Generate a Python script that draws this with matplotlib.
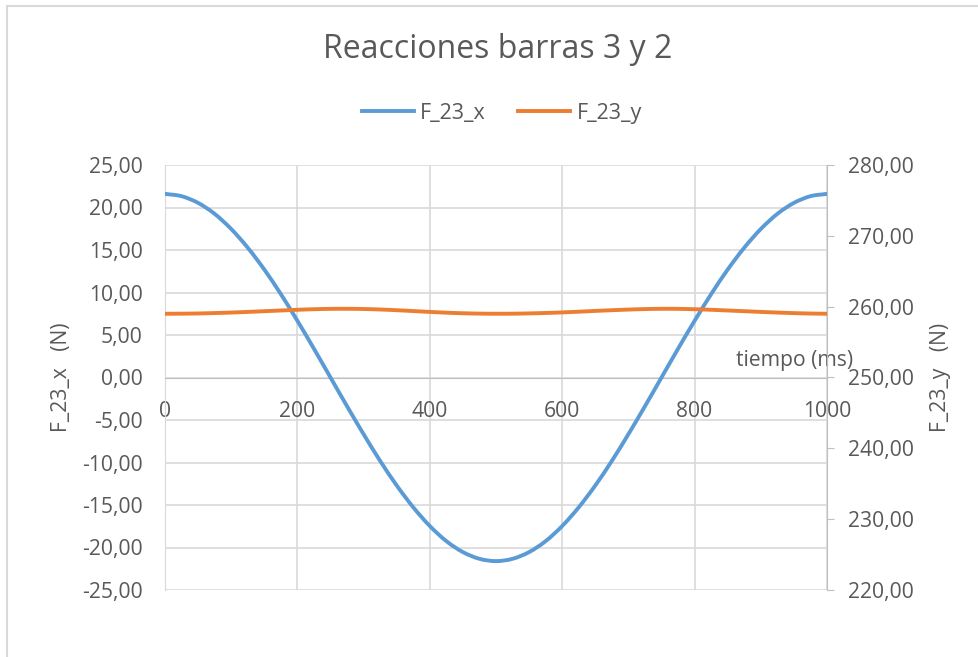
import matplotlib
matplotlib.use("Agg")
import numpy as np
import matplotlib.pyplot as plt
from matplotlib.patches import Rectangle, PathPatch
from matplotlib.path import Path
from matplotlib.lines import Line2D

plt.rcParams['font.family'] = ['Open Sans', 'DejaVu Sans']

# datos
tiempo = [0, 25, 50, 75, 100, 125, 150, 175, 200, 225, 250, 275, 300, 325, 350,
          375, 400, 425, 450, 475, 500, 525, 550, 575, 600, 625, 650, 675, 700,
          725, 750, 775, 800, 825, 850, 875, 900, 925, 950, 975, 1000]

f23_x = [21.60, 21.33, 20.54, 19.25, 17.47, 15.27, 12.70, 9.81, 6.67, 3.38,
         0.00, -3.38, -6.67, -9.81, -12.70, -15.27, -17.47, -19.25, -20.54, -21.33,
         -21.60, -21.33, -20.54, -19.25, -17.47, -15.27, -12.70, -9.81, -6.67, -3.38,
         0.00, 3.38, 6.67, 9.81, 12.70, 15.27, 17.47, 19.25, 20.54, 21.33, 21.60]

f23_y = [259.00, 259.01, 259.04, 259.10, 259.17, 259.26, 259.36, 259.46, 259.56, 259.64,
         259.69, 259.70, 259.67, 259.60, 259.50, 259.38, 259.26, 259.15, 259.07, 259.02,
         259.00, 259.01, 259.05, 259.11, 259.19, 259.29, 259.40, 259.50, 259.59, 259.66,
         259.70, 259.69, 259.64, 259.56, 259.46, 259.36, 259.26, 259.17, 259.09, 259.03,
         259.00]

ticks_x = [0, 200, 400, 600, 800, 1000]
ticks_izq = [-25, -20, -15, -10, -5, 0, 5, 10, 15, 20, 25]
ticks_der = [220, 230, 240, 250, 260, 270, 280]

gris_txt = '#595959'
gris_grid = '#d9d9d9'
gris_eje = '#bfbfbf'
azul = '#5b9bd5'
naranja = '#ed7d31'
fs = 15.2


def linea_suave(ax, x, y, color):
    # línea suavizada tipo Excel (Catmull-Rom pasado a Bezier)
    x = np.asarray(x, float)
    y = np.asarray(y, float)
    verts = [(x[0], y[0])]
    codes = [Path.MOVETO]
    n = len(x)
    for i in range(n - 1):
        x0, y0 = (x[i - 1], y[i - 1]) if i > 0 else (x[i], y[i])
        x3, y3 = (x[i + 2], y[i + 2]) if i + 2 < n else (x[i + 1], y[i + 1])
        c1 = (x[i] + (x[i + 1] - x0) / 6, y[i] + (y[i + 1] - y0) / 6)
        c2 = (x[i + 1] - (x3 - x[i]) / 6, y[i + 1] - (y3 - y[i]) / 6)
        verts += [c1, c2, (x[i + 1], y[i + 1])]
        codes += [Path.CURVE4] * 3
    ax.add_patch(PathPatch(Path(verts, codes), fill=False, edgecolor=color, lw=2.8,
                           capstyle='round', joinstyle='round', zorder=3))


fig = plt.figure(figsize=(9.79, 6.57), dpi=100)
ax = fig.add_axes([165/979, 67/657, 662/979, 425/657])
ax2 = ax.twinx()

# borde del gráfico
fig.patches.append(Rectangle((7/979, -0.05), 1.1, (657-6)/657 + 0.05, transform=fig.transFigure,
                             fill=False, edgecolor=gris_grid, lw=1.5))

linea_suave(ax, tiempo, f23_x, azul)
linea_suave(ax2, tiempo, f23_y, naranja)

ax.set_xlim(0, 1000)
ax.set_ylim(-25, 25)
ax2.set_ylim(220, 280)

ax.set_yticks(ticks_izq)
ax.set_yticklabels([f'{v:.2f}'.replace('.', ',') for v in ticks_izq])
ax2.set_yticks(ticks_der)
ax2.set_yticklabels([f'{v:.2f}'.replace('.', ',') for v in ticks_der])
ax.set_xticks(ticks_x)
ax.set_xticklabels([str(v) for v in ticks_x])

ax.grid(True, color=gris_grid, lw=1.2)
ax.set_axisbelow(True)

for a in (ax, ax2):
    for s in a.spines.values():
        s.set_visible(False)

ax.spines['left'].set_visible(True)
ax.spines['left'].set_color(gris_grid)
ax.spines['bottom'].set_visible(True)
ax.spines['bottom'].set_position(('data', 0))
ax.spines['bottom'].set_color(gris_eje)
ax2.spines['right'].set_visible(True)
ax2.spines['right'].set_color(gris_eje)

ax.tick_params(axis='y', length=0, labelsize=fs, labelcolor=gris_txt, pad=16)
ax.tick_params(axis='x', length=0, labelsize=fs, labelcolor=gris_txt, pad=17)
ax2.tick_params(axis='y', length=5, color=gris_eje, labelsize=fs, labelcolor=gris_txt, pad=10)

ax.set_ylabel('F_23_x   (N)', fontsize=fs, color=gris_txt, labelpad=7)
ax2.set_ylabel('F_23_y   (N)', fontsize=fs, color=gris_txt, labelpad=12)
ax.text(1.039, 0.541, 'tiempo (ms)', transform=ax.transAxes, ha='right', va='center',
        fontsize=fs, color=gris_txt)

fig.text(498/979, 1 - 50/657, 'Reacciones barras 3 y 2', ha='center', va='center',
         fontsize=23, color=gris_txt)
handles = [Line2D([], [], color=azul, lw=2.8, label='F_23_x'),
           Line2D([], [], color=naranja, lw=2.8, label='F_23_y')]
fig.legend(handles=handles, loc='center', bbox_to_anchor=(502/979, 1 - 113/657), ncol=2,
           frameon=False, fontsize=15.5, labelcolor=gris_txt, handlelength=2.4,
           columnspacing=1.5, handletextpad=0.3)

fig.savefig('out.png', dpi=100)
